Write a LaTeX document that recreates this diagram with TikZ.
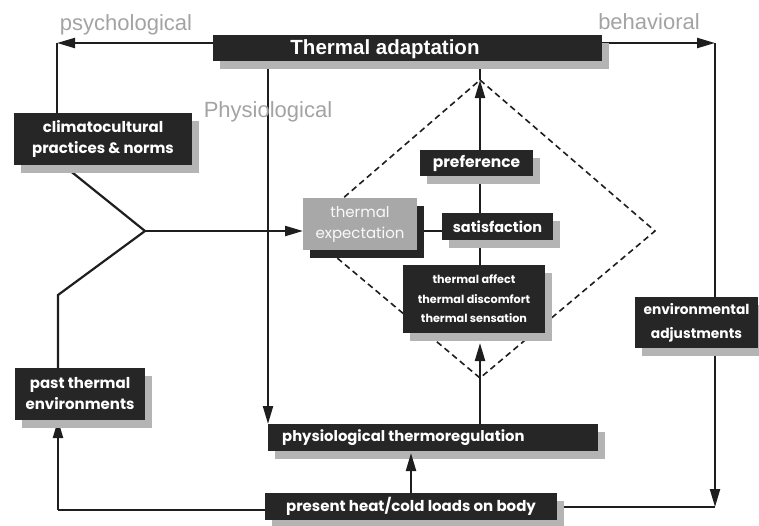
\documentclass[tikz,border=0pt]{standalone}
\usepackage{fontspec}
\setmainfont{Liberation Sans}
\newfontfamily\boxfont{Poppins}
\usetikzlibrary{arrows.meta,shadows,backgrounds}
\definecolor{boxdark}{HTML}{262626}
\definecolor{shade}{HTML}{B4B4B4}
\definecolor{labelgray}{HTML}{A3A3A3}
\definecolor{expgray}{HTML}{A8A8A8}
\definecolor{linecol}{HTML}{1E1E1E}
\begin{document}
\begin{tikzpicture}[x=1pt,y=-1pt,
  box/.style={draw=none, fill=boxdark, text=white, inner sep=0pt, outer sep=0pt,
    anchor=north west, align=center,
    font=\boxfont\bfseries\fontsize{15}{21}\selectfont,
    drop shadow={shadow xshift=7pt, shadow yshift=-8pt, fill=shade, opacity=1}},
  expbox/.style={box, fill=expgray, text=white!95!gray,
    font=\boxfont\fontsize{15}{21}\selectfont,
    drop shadow={shadow xshift=7pt, shadow yshift=-8pt, fill=boxdark, opacity=1}},
  graylabel/.style={text=labelgray, font=\fontsize{22}{26}\selectfont, inner sep=0pt, anchor=base},
  boxtext/.style={text=white, inner sep=0pt},
  conn/.style={draw=linecol, line width=2.2pt},
  arr/.style={conn, -{Triangle[length=18pt,width=10pt]}},
  diam/.style={draw=linecol, line width=1.6pt, dash pattern=on 6pt off 4pt}
]
\useasboundingbox (0,0) rectangle (759,525);

% boxes
\node[box, minimum width=389pt, minimum height=26pt] (ta) at (213,35) {};
\node[boxtext, anchor=base, font=\bfseries\fontsize{20.5}{24}\selectfont] (tatext) at (385,54) {Thermal adaptation};
\node[box, minimum width=178pt, minimum height=52pt] (cc) at (14,113) {climatocultural\\practices \& norms};
\node[box, minimum width=130pt, minimum height=52pt] (pte) at (15,368) {past thermal\\environments};
\node[expbox, minimum width=114pt, minimum height=52pt] (te) at (303,198) {thermal\\expectation};
\node[box, minimum width=113pt, minimum height=26pt, font=\boxfont\bfseries\fontsize{15.5}{17}\selectfont] (pref) at (420,150) {preference};
\node[box, minimum width=111pt, minimum height=27pt, font=\boxfont\bfseries\fontsize{14.5}{17}\selectfont] (sat) at (442,213) {satisfaction};
\node[box, minimum width=142pt, minimum height=68pt, font=\boxfont\bfseries\fontsize{11.2}{19.5}\selectfont] (aff) at (403,265) {thermal affect\\thermal discomfort\\thermal sensation};
\node[box, minimum width=123pt, minimum height=51pt, font=\boxfont\bfseries\fontsize{13.8}{24}\selectfont] (env) at (635,297) {environmental\\adjustments};
\node[box, minimum width=330pt, minimum height=27pt] (phy) at (268,424) {};
\node[boxtext, anchor=west, font=\boxfont\bfseries\fontsize{14.8}{17}\selectfont] (phytext) at (282,438) {physiological thermoregulation};
\node[box, minimum width=292pt, minimum height=27pt, font=\boxfont\bfseries\fontsize{15}{17}\selectfont] (pr) at (265,493) {present heat/cold loads on body};

% gray labels
\node[graylabel] (psy) at (126,30) {psychological};
\node[graylabel] (beh) at (649,29) {behavioral};
\node[graylabel] (phl) at (268,117) {Physiological};

% junction points
\coordinate (cTL) at (57,43);
\coordinate (cTR) at (715,43);
\coordinate (cBR) at (715,507);
\coordinate (cBL) at (58,510);
\coordinate (fork) at (145,231);
\coordinate (kink) at (58,295);
\coordinate (apex) at (480,80);

\begin{scope}[on background layer]
  \draw[diam] (480,80) -- (655,231) -- (480,378) -- (305,231) -- cycle;
  \draw[arr] (ta.west |- cTL) -- (cTL);
  \draw[conn] (cTL) -- (cc.north -| cTL);
  \draw[arr] (ta.east |- cTR) -- (cTR);
  \draw[conn] (cTR) -- (env.north -| cTR);
  \draw[arr] (env.south -| cBR) -- (cBR);
  \draw[conn] (pr.east |- cBR) -- (cBR);
  \draw[conn] (pr.west |- cBL) -- (cBL);
  \draw[arr] (cBL) -- (pte.south -| cBL);
  \draw[conn] ([xshift=49pt]cc.south west) -- (fork);
  \draw[conn] (pte.north -| kink) -- (kink) -- (fork);
  \draw[arr] (fork) -- (te.west |- fork);
  \draw[arr] ([xshift=55pt]ta.south west) -- (phy.north west);
  \draw[conn] (ta.south -| apex) -- (apex);
  \draw[arr] (pref.north -| apex) -- (apex);
  \draw[conn] (pref.south -| apex) -- (sat.north -| apex);
  \draw[conn] (sat.south -| apex) -- (aff.north -| apex);
  \draw[conn] (te.east |- fork) -- (sat.west |- fork);
  \draw[arr] (phy.north -| apex) -- ++(0,-81);
\end{scope}
\draw[arr] (pr.north) -- ++(0,-40);
\end{tikzpicture}
\end{document}
